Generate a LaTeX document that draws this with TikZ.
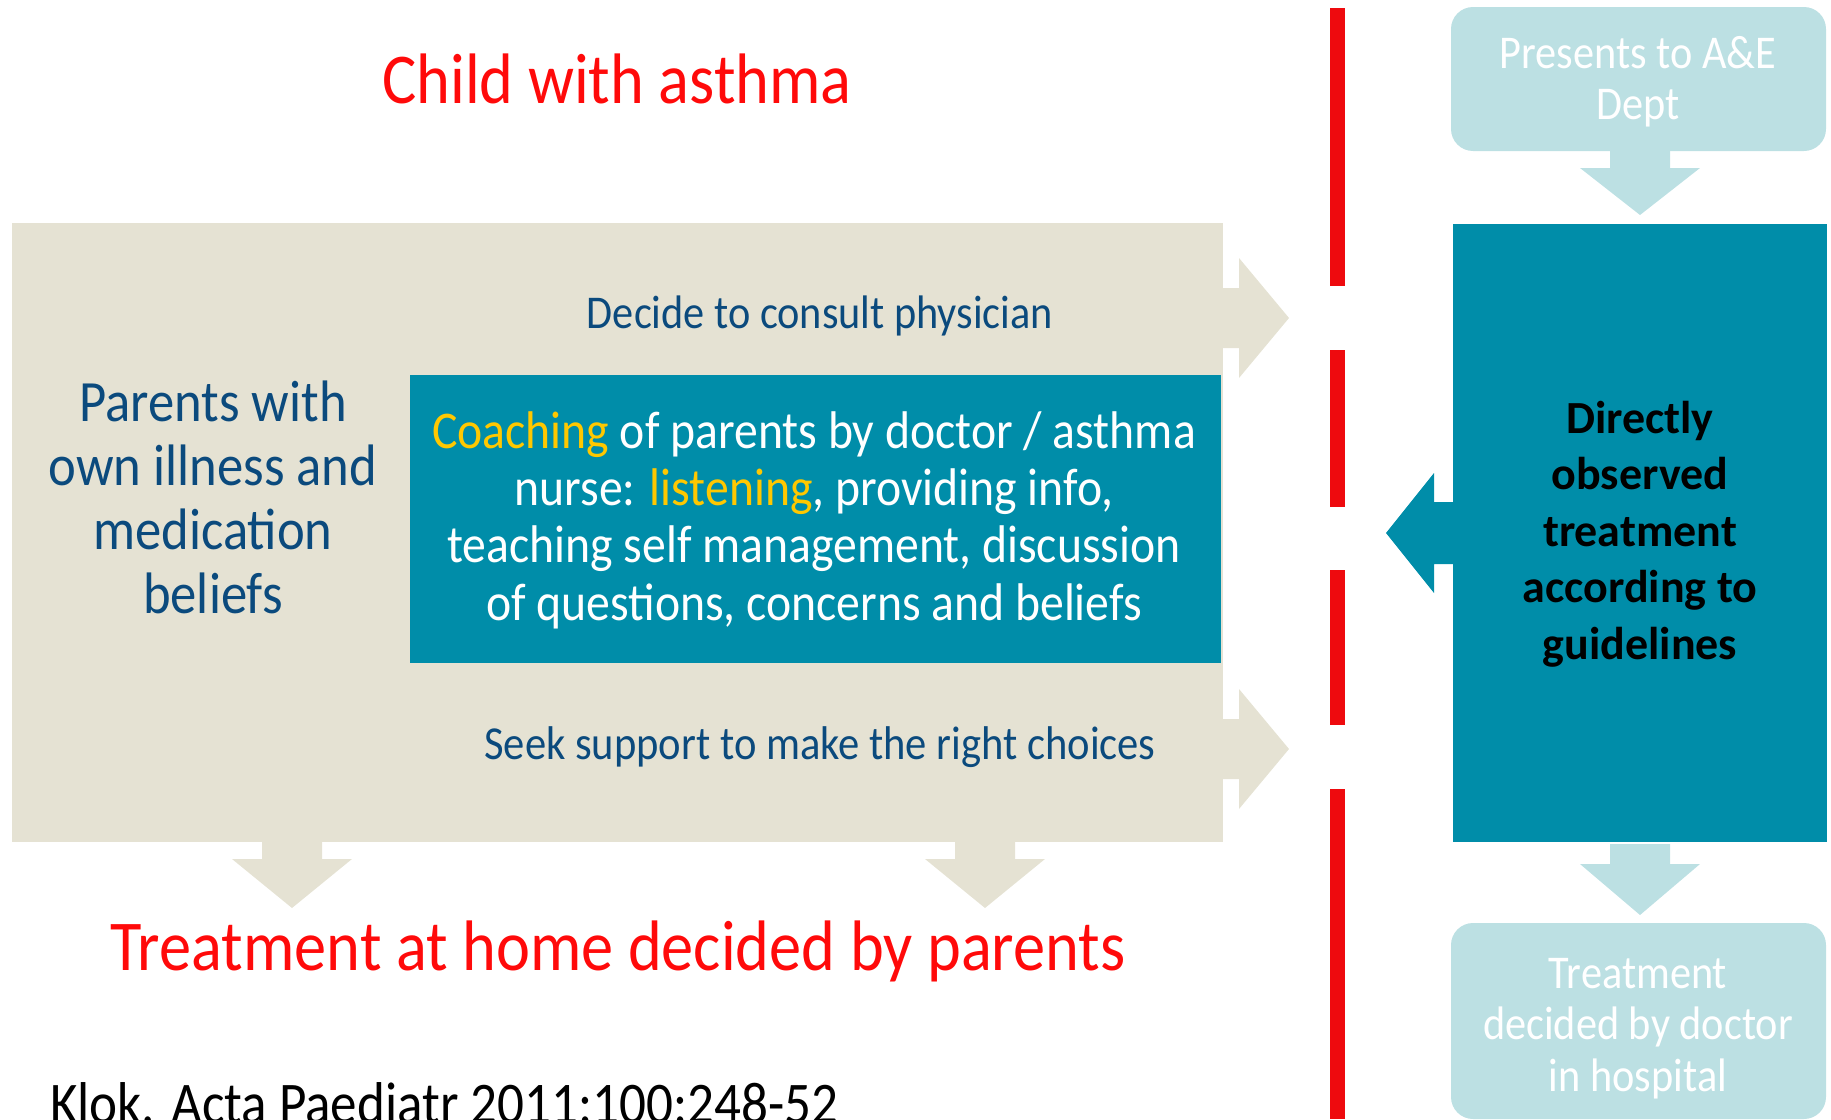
\documentclass[tikz,border=0pt]{standalone}
\usepackage{fontspec}
\setmainfont{Carlito}[FakeStretch=0.9]
\newfontfamily\heavyfont{Carlito}
\definecolor{sand}{HTML}{E5E2D3}
\definecolor{petrol}{HTML}{008DA9}
\definecolor{pale}{HTML}{BCE0E3}
\definecolor{navy}{HTML}{0B4A7D}
\definecolor{barred}{HTML}{EE0A0E}
\definecolor{alertred}{HTML}{FF0A0A}
\definecolor{gold}{HTML}{FFC800}
\tikzset{
  box/.style={rectangle, inner sep=0pt, outer sep=0pt},
  sandbox/.style={box, fill=sand},
  petrolbox/.style={box, fill=petrol},
  palebox/.style={box, fill=pale, rounded corners=22pt},
  % multi-line labels sit on the baseline of their last line
  label/.style={inner sep=0pt, outer sep=0pt, anchor=base, align=center},
  fs/.style args={#1/#2}{font=\fontsize{#1}{#2}\selectfont},
  % block arrows: #1 = stem length, #2 = distance from base to tip
  pics/arrowright/.style args={#1/#2}{code={
    \fill (0,-30) -- (#1,-30) -- (#1,-60) -- (#2,0) -- (#1,60) -- (#1,30) -- (0,30) -- cycle;}},
  pics/arrowleft/.style args={#1/#2}{code={
    \fill (0,-31) -- (-#1,-31) -- (-#1,-60) -- (-#2,0) -- (-#1,60) -- (-#1,31) -- (0,31) -- cycle;}},
  pics/arrowdown/.style args={#1/#2}{code={
    \fill (-30,0) -- (-30,#1) -- (-60,#1) -- (0,#2) -- (60,#1) -- (30,#1) -- (30,0) -- cycle;}},
}
\begin{document}
\begin{tikzpicture}[x=1pt,y=-1pt]
\useasboundingbox (0,0) rectangle (1831,1119);

% home side
\node[sandbox, minimum width=1211pt, minimum height=619pt] (home) at (617.5,532.5) {};
\fill[sand] (home.east |- 0,318) pic {arrowright=16/66};
\fill[sand] (home.east |- 0,749) pic {arrowright=16/66};
\fill[sand] (292,0 |- home.south) pic {arrowdown=17/66};
\fill[sand] (985,0 |- home.south) pic {arrowdown=17/66};

\node[petrolbox, minimum width=811pt, minimum height=288pt] (coach) at (815.5,519) {};

% hospital side
\node[petrolbox, minimum width=374pt, minimum height=618pt] (dot) at (1640,533) {};
\fill[petrol] (dot.west |- 0,533) pic {arrowleft=19/67};
\node[palebox, minimum width=375pt, minimum height=144pt] (ae) at (1638.5,79) {};
\node[palebox, minimum width=375pt, minimum height=196pt] (hosp) at (1638.5,1021) {};
\fill[pale] (1640,0 |- ae.south) pic {arrowdown=17/64};
\fill[pale] (1640,844) pic {arrowdown=20/71};

% dividing line
\draw[barred, line width=15pt]
  (1337.5,8) -- (1337.5,286)
  (1337.5,350) -- (1337.5,507)
  (1337.5,570) -- (1337.5,725)
  (1337.5,789) -- (1337.5,1119);

% texts
\node[label, fs=71.5/80, text=alertred] (title) at (617,103) {Child with asthma};
\node[label, fs=71.5/80, text=alertred] (homelabel) at (618,970) {Treatment at home decided by parents};
\node[label, fs=59/66, anchor=base west] (ref) at (50,1123) {Klok. Acta Paediatr 2011:100:248-52};

\node[label, fs=47/51, text=navy] (consult) at (820,328) {Decide to consult physician};
\node[label, fs=47.3/51, text=navy] (support) at (820,759) {Seek support to make the right choices};

\node[label, fs=58.5/63.7, text=navy] (beliefs) at (213,613)
  {Parents with\\own illness and\\medication\\beliefs};
\node[label, fs=53/57.3, text=white] (coaching) at (814,620)
  {\textcolor{gold}{Coaching} of parents by doctor / asthma\\
   nurse: \textcolor{gold}{listening}, providing info,\\
   teaching self management, discussion\\
   of questions, concerns and beliefs};
\node[label, font=\heavyfont\bfseries\fontsize{46}{56.5}\selectfont, text=black] (dotlabel) at (1640,659)
  {Directly\\observed\\treatment\\according to\\guidelines};
\node[label, fs=47/51, text=white] (aelabel) at (1638,119) {Presents to A\&E\\Dept};
\node[label, fs=47/51.5, text=white] (hosplabel) at (1638,1091)
  {Treatment\\decided by doctor\\in hospital};
\end{tikzpicture}
\end{document}
